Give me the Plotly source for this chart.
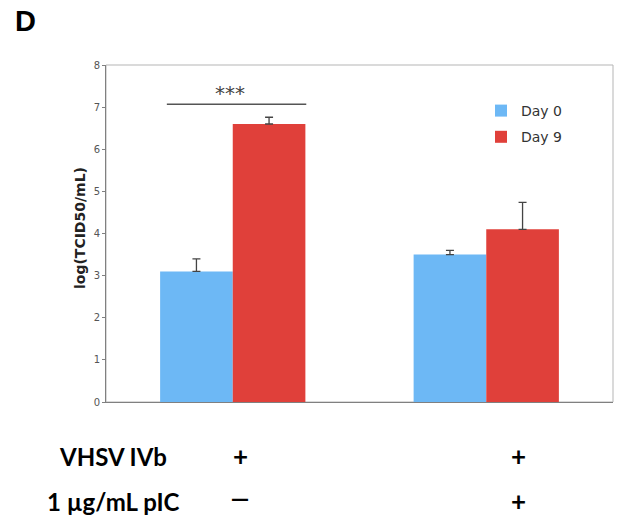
import plotly.graph_objects as go

# ---- data ----
groups = [0, 1]  # two treatment conditions (VHSV IVb alone, VHSV IVb + pIC)
day0_values = [3.1, 3.5]
day0_errors = [0.3, 0.1]
day9_values = [6.6, 4.1]
day9_errors = [0.16, 0.64]
series_names = ["Day 0", "Day 9"]
y_ticks = [0, 1, 2, 3, 4, 5, 6, 7, 8]
row_labels = ["VHSV IVb", "1 µg/mL pIC"]
row_signs = [["+", "+"], ["—", "+"]]
sig_text = "***"
panel_label = "D"
y_title = "log(TCID50/mL)"

W, H = 621, 519
L, R, T, B = 106, 8, 65, 117
PW = W - L - R
PH = H - T - B


def px_x(p):
    return (p - L) / PW


def px_y(p):
    return (H - B - p) / PH


BLUE = "#6db8f5"
RED = "#e0403a"

fig = go.Figure()
fig.add_trace(go.Bar(
    x=groups, y=day0_values, name=series_names[0], marker_color=BLUE,
    marker_line_width=0, legendgroup="a",
    error_y=dict(type="data", symmetric=False, array=day0_errors,
                 arrayminus=[0] * len(day0_errors), color="#444444",
                 thickness=1.3, width=4)))
fig.add_trace(go.Bar(
    x=groups, y=day9_values, name=series_names[1], marker_color=RED,
    marker_line_width=0, legendgroup="b",
    error_y=dict(type="data", symmetric=False, array=day9_errors,
                 arrayminus=[0] * len(day9_errors), color="#444444",
                 thickness=1.3, width=4)))

fig.update_layout(
    width=W, height=H,
    margin=dict(l=L, r=R, t=T, b=B, pad=0),
    paper_bgcolor="white", plot_bgcolor="white",
    barmode="group", bargap=0.427, bargroupgap=0,
    showlegend=True,
    legend=dict(x=px_x(481), y=px_y(95), xanchor="left", yanchor="top",
                bgcolor="rgba(0,0,0,0)", tracegroupgap=5,
                font=dict(family="DejaVu Sans", size=14, color="#333333")),
    font=dict(family="DejaVu Sans"),
)
fig.update_xaxes(range=[-0.5, 1.5], showticklabels=False, ticks="",
                 showgrid=False, zeroline=False, showline=True,
                 linecolor="#808080", linewidth=1)
fig.update_yaxes(range=[0, 8], tickvals=y_ticks, ticks="outside", ticklen=3,
                 tickcolor="#808080", showgrid=False, zeroline=False,
                 showline=True, linecolor="#808080", linewidth=1,
                 tickfont=dict(family="DejaVu Sans", size=10, color="#555555"))

# light frame (top/right)
fig.add_shape(type="rect", xref="paper", yref="paper", x0=0, x1=1, y0=0, y1=1,
              line=dict(color="#b5b5b5", width=1), layer="below")

# significance bar
fig.add_shape(type="line", xref="x", yref="y", x0=-0.26, x1=0.29, y0=7.07, y1=7.07,
              line=dict(color="#555555", width=1.5))
fig.add_annotation(x=-0.01, y=7.33, xref="x", yref="y", text=sig_text,
                   showarrow=False, font=dict(family="DejaVu Sans", size=20, color="#444444"))

# y title
fig.add_annotation(x=px_x(70), y=px_y(228), xref="paper", yref="paper", text=y_title,
                   textangle=-90, showarrow=False,
                   font=dict(family="DejaVu Sans", size=14, color="#222222", weight="bold"))

# panel label
fig.add_annotation(x=px_x(13), y=px_y(21), xref="paper", yref="paper", text=panel_label,
                   xanchor="left", yanchor="middle", showarrow=False,
                   font=dict(family="Liberation Sans", size=29, color="black", weight="bold"))

# bottom condition table
row_y = [456, 501]
sign_x = [240, 518]
for i, lab in enumerate(row_labels):
    fig.add_annotation(x=px_x(113), y=px_y(row_y[i]), xref="paper", yref="paper",
                       text=lab, showarrow=False, xanchor="center", yanchor="middle",
                       font=dict(family="Lato", size=24, color="black", weight="bold"))
    for j, s in enumerate(row_signs[i]):
        is_plus = s == "+"
        fig.add_annotation(x=px_x(sign_x[j]), y=px_y(row_y[i] - (0 if is_plus else 3)),
                           xref="paper", yref="paper",
                           text=s, showarrow=False, xanchor="center", yanchor="middle",
                           font=dict(family="DejaVu Sans" if not is_plus else "Lato",
                                     size=26 if is_plus else 18,
                                     color="black", weight="bold"))

fig.write_html("out.html")
